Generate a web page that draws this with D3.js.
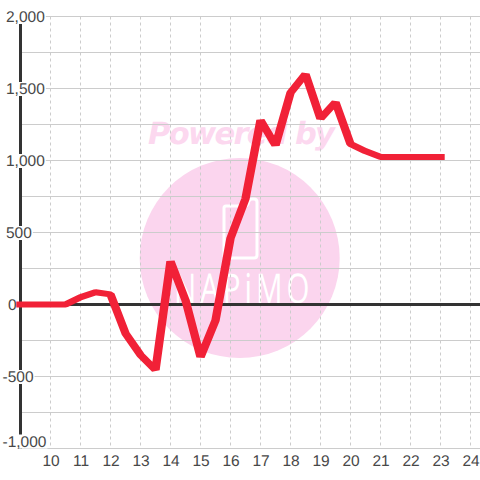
<!DOCTYPE html>
<html>
<head>
<meta charset="utf-8">
<script src="https://cdn.jsdelivr.net/npm/d3@7"></script>
<style>
html,body{margin:0;padding:0;background:#fff;}
svg{display:block;}
text{font-family:"Liberation Sans",Arial,sans-serif;text-rendering:geometricPrecision;}
</style>
</head>
<body>
<div id="DrawingBoard"></div>
<script>
var hours=[9,9.5,10,10.5,11,11.5,12,12.5,13,13.5,14,14.5,15,15.5,16,16.5,17,17.5,18,18.5,19,19.5,20,20.5,21,21.5,22,22.5,23];
var values=[0,0,0,0,50,85,70,-200,-350,-455,300,30,-365,-110,460,735,1280,1105,1470,1600,1290,1405,1115,1065,1025,1025,1025,1025,1025];
var xTicks=[10,11,12,13,14,15,16,17,18,19,20,21,22,23,24];
var yGrid=[-1000,-750,-500,-250,0,250,500,750,1000,1250,1500,1750,2000];
var yTicks=[-1000,-500,0,500,1000,1500,2000];
var yTickLabels=["-1,000","-500","0","500","1,000","1,500","2,000"];

var width=480,height=480;
var svg=d3.select('#DrawingBoard')
    .append('svg')
    .attr('width',width)
    .attr('height',height);

var scale_x=d3.scaleLinear().domain([10,24]).range([50.5,470.5]);
var scale_y=d3.scaleLinear().domain([-1000,2000]).range([448.5,16.5]);

// watermark, sits under the grid
var mark=svg.append('g');
mark.append('text')
    .attr('x',148).attr('y',144)
    .attr('textLength',187)
    .style('font-family','"DejaVu Sans"')
    .style('font-weight','bold')
    .style('font-style','italic')
    .style('font-size','30.5px')
    .attr('fill','#fcd8ef')
    .text('Powered by');
mark.append('circle')
    .attr('cx',239.7).attr('cy',258).attr('r',100)
    .attr('fill','#fbd5ee');
mark.append('path')
    .attr('d','M226 206H245Q247 206 248 204L249 201Q250 199 252 199H254Q257 199 257 202V255Q257 258 254 258H227Q224 258 224 255V208Q224 206 226 206Z')
    .attr('fill','none')
    .attr('stroke','#fff')
    .attr('stroke-width',3);
mark.append('text')
    .attr('transform','translate(174,303) scale(0.72,1)')
    .style('font-family','"Open Sans"')
    .style('font-size','41px')
    .style('letter-spacing','5.5px')
    .attr('fill','#fff')
    .text('NAPiMO');

// grid
svg.append('g').selectAll('line').data(yGrid).join('line')
    .attr('x1',21).attr('x2',width)
    .attr('y1',function(d){return scale_y(d);})
    .attr('y2',function(d){return scale_y(d);})
    .attr('stroke','#ccc')
    .attr('stroke-width',1.2);
svg.append('g').selectAll('line').data(xTicks).join('line')
    .attr('x1',function(d){return scale_x(d);})
    .attr('x2',function(d){return scale_x(d);})
    .attr('y1',scale_y(2000)).attr('y2',scale_y(-1000))
    .attr('stroke','#ccc')
    .attr('stroke-dasharray','3,3');

// axes
svg.append('line')
    .attr('x1',20.5).attr('x2',20.5)
    .attr('y1',scale_y(2000)).attr('y2',scale_y(-1000))
    .attr('stroke','#333').attr('stroke-width',3);
svg.append('line')
    .attr('x1',20).attr('x2',width)
    .attr('y1',scale_y(0)).attr('y2',scale_y(0))
    .attr('stroke','#333').attr('stroke-width',3);

var x_axis=d3.axisBottom(scale_x).tickValues(xTicks).tickSize(0).tickPadding(0).tickFormat(d3.format('d'));
var gx=svg.append('g').attr('transform','translate(0,452)').call(x_axis);
gx.select('.domain').remove();
gx.selectAll('text')
    .style('font-family','"Liberation Sans"')
    .style('font-size','15.5px')
    .attr('fill','#484848')
    .attr('dy',null)
    .attr('y',14);

// y labels have a white box behind them that cuts the axis and grid
var ylab=svg.append('g').selectAll('g').data(yTicks).join('g');
ylab.each(function(d,i){
    var g=d3.select(this);
    var left=d<0?2.5:(d==0?8:6);
    var base=d==-1000?446.5:scale_y(d)+5.5;
    var rect=g.append('rect').attr('fill','#fff');
    var t=g.append('text')
        .attr('x',left).attr('y',base)
        .style('font-size','15.5px')
        .attr('fill','#484848')
        .text(yTickLabels[i]);
    var w=t.node().getComputedTextLength();
    rect.attr('x',left-2).attr('y',base-12).attr('width',w+3).attr('height',14);
});

// series, the pen is wider than tall so the path is stretched in x
var penX=1.4;
var line=d3.line()
    .x(function(d,i){return scale_x(hours[i])/penX;})
    .y(function(d){return scale_y(d);});
svg.append('path')
    .datum(values)
    .attr('transform','scale('+penX+',1)')
    .attr('d',line)
    .attr('fill','none')
    .attr('stroke','#f12137')
    .attr('stroke-width',6)
    .attr('stroke-linecap','square')
    .attr('stroke-linejoin','bevel');
</script>
</body>
</html>
